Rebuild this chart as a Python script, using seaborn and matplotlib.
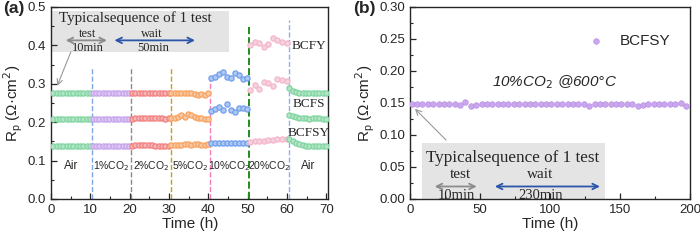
import numpy as np
import pandas as pd
import seaborn as sns
import matplotlib.pyplot as plt

# ---- panel (a) data: Rp per CO2 step ----
segments = ['Air', '1%CO$_2$', '2%CO$_2$', '5%CO$_2$', '10%CO$_2$', '20%CO$_2$', 'Air ']
seg_start = [0.6, 10.6, 20.6, 30.6, 40.6, 50.6, 60.6]
seg_colors = ['#7fd6a0', '#c7a3ee', '#f47f7f', '#f9a35e', '#6f9ff0', '#f5b6cc', '#7fd6a0']

bcfy = [
    [0.275, 0.275, 0.275, 0.275, 0.275, 0.275, 0.275, 0.275, 0.275, 0.275, 0.275, 0.275],
    [0.275, 0.275, 0.275, 0.275, 0.275, 0.275, 0.275, 0.275, 0.275, 0.275, 0.275, 0.275],
    [0.275, 0.275, 0.276, 0.276, 0.275, 0.276, 0.276, 0.276, 0.275, 0.276, 0.276, 0.276],
    [0.276, 0.277, 0.276, 0.277, 0.276, 0.275, 0.277, 0.273, 0.272, 0.274, 0.271, 0.276],
    [0.315, 0.318, 0.326, 0.331, 0.318, 0.316, 0.328, 0.324, 0.313, 0.314],
    [0.402, 0.410, 0.405, 0.397, 0.403, 0.418, 0.414, 0.408, 0.406],
    [0.288, 0.282, 0.279, 0.277, 0.276, 0.276, 0.276, 0.275, 0.275, 0.275, 0.275, 0.275],
]
bcfs = [
    [0.208, 0.208, 0.208, 0.208, 0.208, 0.208, 0.208, 0.208, 0.208, 0.208, 0.208, 0.208],
    [0.209, 0.209, 0.209, 0.209, 0.209, 0.209, 0.209, 0.209, 0.209, 0.209, 0.209, 0.209],
    [0.209, 0.210, 0.211, 0.211, 0.212, 0.212, 0.211, 0.212, 0.211, 0.210, 0.209, 0.210],
    [0.211, 0.212, 0.214, 0.219, 0.214, 0.220, 0.218, 0.213, 0.212, 0.211, 0.209, 0.208],
    [0.228, 0.233, 0.240, 0.232, 0.246, 0.232, 0.227, 0.236, 0.238, 0.234],
    [0.284, 0.298, 0.287, 0.304, 0.301, 0.294, 0.312, 0.309, 0.307],
    [0.218, 0.215, 0.213, 0.212, 0.211, 0.210, 0.209, 0.210, 0.211, 0.210, 0.209, 0.208],
]
bcfsy = [
    [0.139, 0.139, 0.139, 0.139, 0.139, 0.139, 0.139, 0.139, 0.139, 0.139, 0.139, 0.139],
    [0.139, 0.139, 0.139, 0.139, 0.139, 0.139, 0.139, 0.139, 0.139, 0.139, 0.139, 0.139],
    [0.139, 0.140, 0.140, 0.140, 0.140, 0.140, 0.140, 0.139, 0.139, 0.139, 0.139, 0.139],
    [0.140, 0.141, 0.141, 0.141, 0.142, 0.142, 0.141, 0.142, 0.142, 0.141, 0.141, 0.142],
    [0.145, 0.145, 0.145, 0.145, 0.145, 0.145, 0.146, 0.146, 0.146, 0.146],
    [0.148, 0.150, 0.151, 0.152, 0.153, 0.154, 0.155, 0.155, 0.155],
    [0.156, 0.150, 0.145, 0.142, 0.140, 0.139, 0.139, 0.139, 0.139, 0.139, 0.139, 0.139],
]

vline_x = [10.4, 20.4, 30.4, 40.4, 50.4, 60.4]
vline_top = [0.34, 0.34, 0.34, 0.325, 0.447, 0.466]
vline_colors = ['#7ea6e8', '#8c8c8c', '#d49a17', '#f57fb5', '#1e8c1e', '#8fb0e6']

# ---- panel (b) data ----
time_b = np.linspace(1, 197, 52)
rp_b = [0.148, 0.149, 0.148, 0.148, 0.149, 0.148, 0.148, 0.148, 0.148, 0.147, 0.151, 0.146, 0.147,
        0.148, 0.148, 0.148, 0.149, 0.148, 0.148, 0.149, 0.148, 0.148, 0.148, 0.149, 0.148, 0.148,
        0.148, 0.148, 0.149, 0.148, 0.148, 0.148, 0.148, 0.146, 0.148, 0.148, 0.149, 0.148, 0.148,
        0.148, 0.148, 0.148, 0.146, 0.147, 0.148, 0.148, 0.148, 0.148, 0.148, 0.149, 0.150, 0.146]

rows = []
for name, series in [('BCFY', bcfy), ('BCFS', bcfs), ('BCFSY', bcfsy)]:
    for seg, start, vals in zip(segments, seg_start, series):
        t = np.linspace(start, start + 9.3, len(vals))
        for ti, v in zip(t, vals):
            rows.append({'sample': name, 'segment': seg, 'time': ti, 'rp': v})
df_a = pd.DataFrame(rows)
df_b = pd.DataFrame({'time': time_b, 'rp': rp_b, 'sample': 'BCFSY'})

sns.set_style('ticks')
plt.rcParams['font.family'] = ['Liberation Sans', 'DejaVu Sans']
plt.rcParams['xtick.direction'] = 'in'
plt.rcParams['ytick.direction'] = 'in'
plt.rcParams['axes.linewidth'] = 1.0

fig = plt.figure(figsize=(7, 2.4), dpi=100)
ax1 = fig.add_axes([0.073, 0.171, 0.396, 0.8])
ax2 = fig.add_axes([0.586, 0.171, 0.40, 0.8])

serif = 'Liberation Serif'

# ---- panel (a) ----
for x, top, c in zip(vline_x, vline_top, vline_colors):
    lw = 1.4 if c == '#1e8c1e' else 1.0
    ax1.plot([x, x], [0, top], ls='--', color=c, lw=lw, zorder=1)

pal = dict(zip(segments, seg_colors))
for seg in segments:
    sub = df_a[df_a['segment'] == seg]
    sns.scatterplot(data=sub, x='time', y='rp', ax=ax1, s=14, marker='o',
                    facecolor='#ffffff', edgecolor=pal[seg], linewidth=0.9,
                    legend=False, zorder=3)
    ax1.collections[-1].set_facecolor(sns.light_palette(pal[seg], 3)[1])
    ax1.collections[-1].set_edgecolor(pal[seg])

seg_centers = [5, 15.4, 25.4, 35.4, 45.4, 55.4, 65.4]
for seg, xc in zip(segments, seg_centers):
    fs = 8.5 if seg.strip() == 'Air' else 7.5
    ax1.text(xc, 0.085, seg.strip(), ha='center', va='center', fontsize=fs)

ax1.text(65.5, 0.398, 'BCFY', family=serif, fontsize=9.5, ha='center', va='center')
ax1.text(65.5, 0.248, 'BCFS', family=serif, fontsize=9.5, ha='center', va='center')
ax1.text(65.5, 0.172, 'BCFSY', family=serif, fontsize=9.5, ha='center', va='center')

ax1.add_patch(plt.Rectangle((0.2, 0.383), 45, 0.107, facecolor='#e4e4e4', edgecolor='none', zorder=0))
ax1.text(21.5, 0.472, 'Typicalsequence of 1 test', family=serif, fontsize=10.8, ha='center', va='center')
ax1.text(9.4, 0.430, 'test', family=serif, fontsize=9, ha='center', va='center')
ax1.text(25.5, 0.430, 'wait', family=serif, fontsize=9, ha='center', va='center')
ax1.text(9.4, 0.392, '10min', family=serif, fontsize=9, ha='center', va='center')
ax1.text(26.0, 0.392, '50min', family=serif, fontsize=9, ha='center', va='center')
ax1.annotate('', xy=(3.0, 0.413), xytext=(14.9, 0.413),
             arrowprops=dict(arrowstyle='<->', color='#8c8c8c', lw=1.3))
ax1.annotate('', xy=(15.4, 0.413), xytext=(37.3, 0.413),
             arrowprops=dict(arrowstyle='<->', color='#2a55a8', lw=1.3))
ax1.annotate('', xy=(1.3, 0.288), xytext=(5.3, 0.390),
             arrowprops=dict(arrowstyle='->', color='#999999', lw=0.8))

ax1.set_xlim(0, 70.5)
ax1.set_ylim(0, 0.5)
ax1.set_xticks(np.arange(0, 71, 10))
ax1.set_yticks(np.arange(0, 0.51, 0.1))
ax1.set_yticklabels(['0.0', '0.1', '0.2', '0.3', '0.4', '0.5'])
ax1.set_xticks(np.arange(0, 71, 5), minor=True)
ax1.set_yticks(np.arange(0, 0.51, 0.05), minor=True)

# ---- panel (b) ----
sns.scatterplot(data=df_b, x='time', y='rp', ax=ax2, s=16, color='#caa6ee',
                edgecolor='#b792e3', linewidth=0.5, label='BCFSY', zorder=3)
ax2.text(103, 0.182, '10%CO$_2$ @600°C', style='italic', fontsize=11, ha='center', va='center')

ax2.add_patch(plt.Rectangle((8.6, 0.0), 130.5, 0.0875, facecolor='#e4e4e4', edgecolor='none', zorder=0))
ax2.text(73, 0.0635, 'Typicalsequence of 1 test', family=serif, fontsize=12.3, ha='center', va='center')
ax2.text(36, 0.039, 'test', family=serif, fontsize=11, ha='center', va='center')
ax2.text(93, 0.039, 'wait', family=serif, fontsize=11, ha='center', va='center')
ax2.text(33, 0.006, '10min', family=serif, fontsize=10.5, ha='center', va='center')
ax2.text(93, 0.006, '230min', family=serif, fontsize=10.5, ha='center', va='center')
ax2.annotate('', xy=(15.5, 0.0195), xytext=(49.5, 0.0195),
             arrowprops=dict(arrowstyle='<->', color='#8c8c8c', lw=1.3))
ax2.annotate('', xy=(58.5, 0.0195), xytext=(137.5, 0.0195),
             arrowprops=dict(arrowstyle='<->', color='#2a55a8', lw=1.3))
ax2.annotate('', xy=(2.0, 0.144), xytext=(27, 0.089),
             arrowprops=dict(arrowstyle='->', color='#999999', lw=0.8))

ax2.set_xlim(0, 200)
ax2.set_ylim(0, 0.30)
ax2.set_xticks(np.arange(0, 201, 50))
ax2.set_yticks(np.arange(0, 0.31, 0.05))
ax2.set_yticklabels(['0.00', '0.05', '0.10', '0.15', '0.20', '0.25', '0.30'])
ax2.set_xticks(np.arange(0, 201, 25), minor=True)
ax2.set_yticks(np.arange(0, 0.31, 0.025), minor=True)
ax2.legend(loc='upper right', bbox_to_anchor=(0.98, 0.93), frameon=False, fontsize=11,
           handletextpad=0.6, markerscale=1.0)

for ax in (ax1, ax2):
    ax.tick_params(axis='both', which='major', labelsize=9.5, length=4, width=0.9)
    ax.tick_params(axis='both', which='minor', length=2.5, width=0.8)
    ax.set_xlabel('Time (h)', fontsize=11, labelpad=1)
    ax.set_ylabel(r'R$_\mathregular{p}$ (Ω·cm$^2$)', fontsize=11, labelpad=2)
    for sp in ax.spines.values():
        sp.set_visible(True)

fig.text(0.004, 0.965, '(a)', fontsize=12.5, fontweight='bold', va='center')
fig.text(0.505, 0.965, '(b)', fontsize=12.5, fontweight='bold', va='center')

fig.savefig('out.png', dpi=100)
plt.close(fig)
